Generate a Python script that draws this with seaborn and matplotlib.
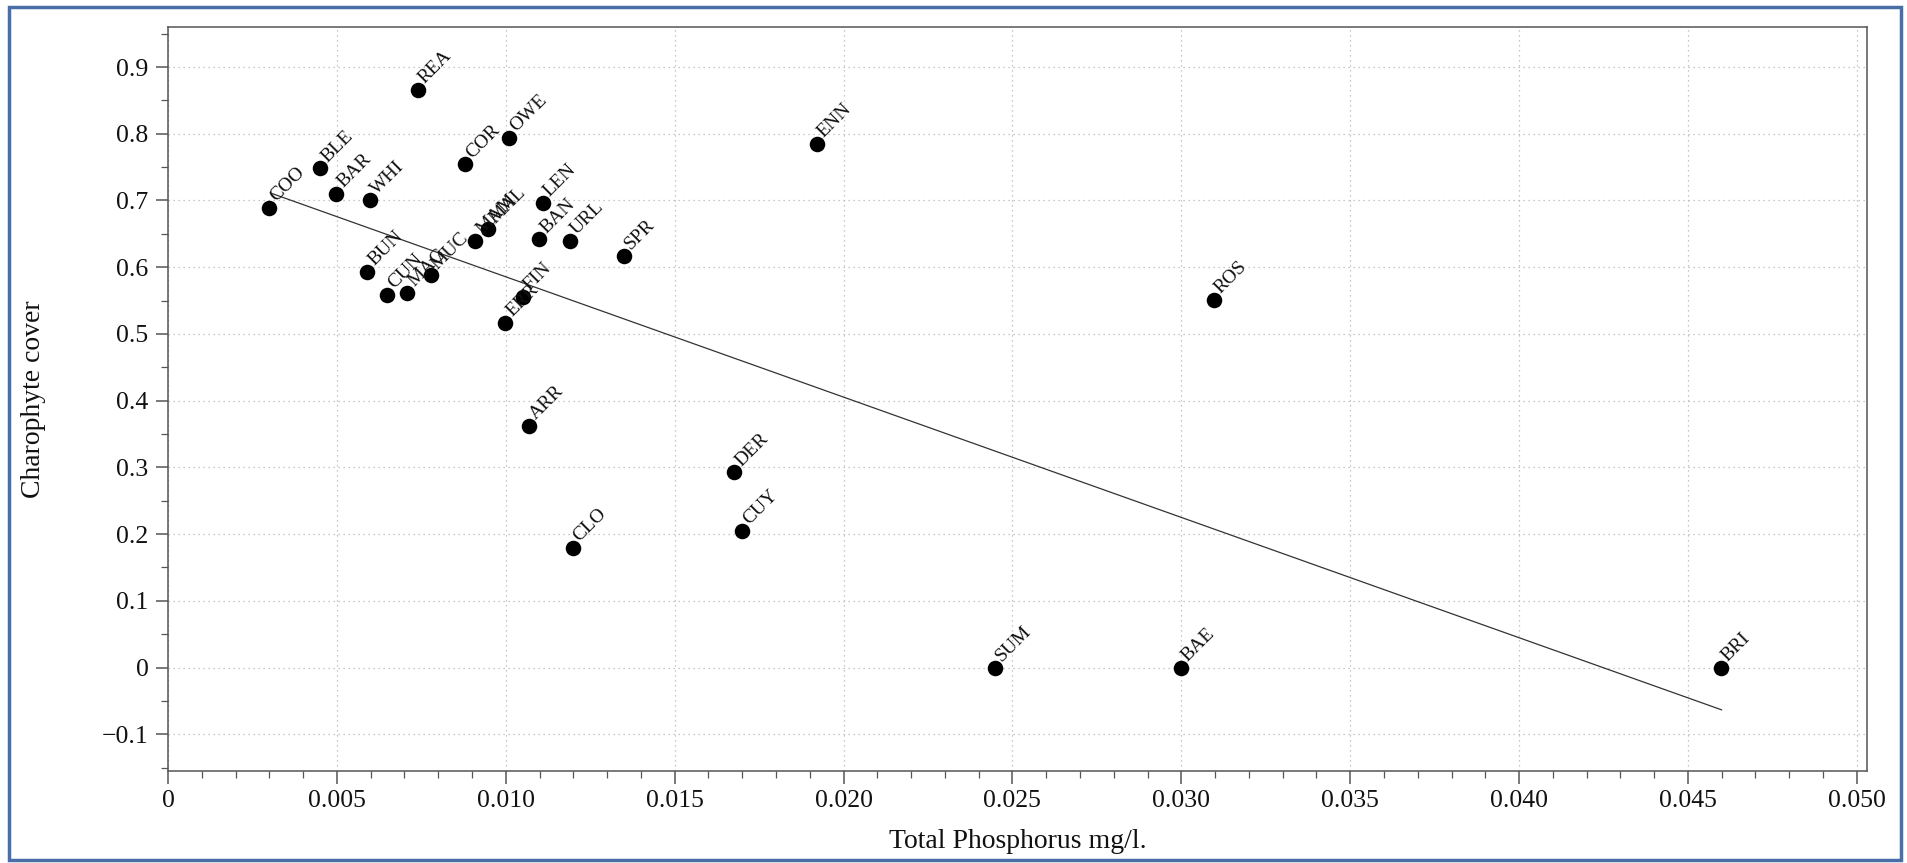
import numpy as np
import pandas as pd
import matplotlib
matplotlib.use("Agg")
import matplotlib.pyplot as plt
from matplotlib.patches import Rectangle
from matplotlib.ticker import FixedLocator, FixedFormatter, MultipleLocator
import seaborn as sns

# ---- data ----
lakes = ["COO", "BLE", "BAR", "WHI", "REA", "COR", "OWE", "ENN", "LEN", "MAL",
         "MAM", "BAN", "URL", "SPR", "BUN", "CUN", "MAG", "MUC", "FIN", "ERR",
         "ARR", "DER", "CUY", "CLO", "ROS", "SUM", "BAE", "BRI"]
total_p = [0.00300, 0.00450, 0.00498, 0.00599, 0.00739, 0.00880, 0.01009, 0.01920,
           0.01109, 0.00948, 0.00909, 0.01099, 0.01189, 0.01350, 0.00589, 0.00649,
           0.00708, 0.00778, 0.01050, 0.00999, 0.01069, 0.01677, 0.01699, 0.01198,
           0.03096, 0.02448, 0.02998, 0.04597]
chara_cover = [0.689, 0.748, 0.710, 0.700, 0.866, 0.754, 0.794, 0.785,
               0.697, 0.657, 0.640, 0.642, 0.640, 0.617, 0.593, 0.559,
               0.562, 0.588, 0.556, 0.517, 0.362, 0.2925, 0.205, 0.1795,
               0.551, 0.0, 0.0, 0.0]

# fitted trend line (end points)
fit_x = [0.00302, 0.0460]
fit_y = [0.7115, -0.0634]

x_ticks = [0, 0.005, 0.010, 0.015, 0.020, 0.025, 0.030, 0.035, 0.040, 0.045, 0.050]
x_tick_labels = ["0", "0.005", "0.010", "0.015", "0.020", "0.025", "0.030",
                 "0.035", "0.040", "0.045", "0.050"]
y_ticks = [-0.1, 0, 0.1, 0.2, 0.3, 0.4, 0.5, 0.6, 0.7, 0.8, 0.9]
y_tick_labels = ["\u22120.1", "0", "0.1", "0.2", "0.3", "0.4", "0.5", "0.6",
                 "0.7", "0.8", "0.9"]

df = pd.DataFrame({"lake": lakes, "tp": total_p, "cover": chara_cover})
fit_df = pd.DataFrame({"tp": fit_x, "cover": fit_y})

sns.set_theme(style="white")
plt.rcParams["font.family"] = ["Liberation Serif", "DejaVu Serif"]

fig = plt.figure(figsize=(19.07, 8.63), dpi=100)
ax = fig.add_axes([0.0881, 0.1066, 0.8909, 0.8621])

# outer blue frame
fig.patches.append(Rectangle((0.0045, 0.003), 0.9925, 0.989, transform=fig.transFigure,
                             fill=False, edgecolor="#4a6fa8", linewidth=2.5))

sns.lineplot(data=fit_df, x="tp", y="cover", ax=ax, color="#333333", linewidth=0.9)
sns.scatterplot(data=df, x="tp", y="cover", ax=ax, color="black", s=125,
                edgecolor="black", linewidth=0, zorder=3)

for name, xv, yv in zip(lakes, total_p, chara_cover):
    ax.annotate(name, (xv, yv), xytext=(5, 4), textcoords="offset points",
                rotation=45, rotation_mode="anchor", ha="left", va="baseline",
                fontsize=14, color="#111111")

ax.set_xlim(0, 0.0503)
ax.set_ylim(-0.155, 0.96)

ax.xaxis.set_major_locator(FixedLocator(x_ticks))
ax.xaxis.set_major_formatter(FixedFormatter(x_tick_labels))
ax.yaxis.set_major_locator(FixedLocator(y_ticks))
ax.yaxis.set_major_formatter(FixedFormatter(y_tick_labels))
ax.xaxis.set_minor_locator(MultipleLocator(0.001))
ax.yaxis.set_minor_locator(MultipleLocator(0.05))

ax.tick_params(axis="both", which="major", direction="out", length=9, width=1.1,
               color="#555555", labelsize=18.5, labelcolor="#111111", pad=5,
               bottom=True, left=True)
ax.tick_params(axis="both", which="minor", direction="out", length=5, width=0.9,
               color="#555555", bottom=True, left=True)

ax.grid(True, which="major", linestyle=(0, (1, 3)), color="#b5b5b5", linewidth=0.9)

for side in ["left", "bottom", "top", "right"]:
    ax.spines[side].set_visible(True)
    ax.spines[side].set_color("#555555")
    ax.spines[side].set_linewidth(1.1)

ax.set_xlabel("Total Phosphorus mg/l.", fontsize=20, color="#111111", labelpad=12)
ax.set_ylabel("Charophyte cover", fontsize=20, color="#111111", labelpad=40)

fig.savefig("out.png", dpi=100)
